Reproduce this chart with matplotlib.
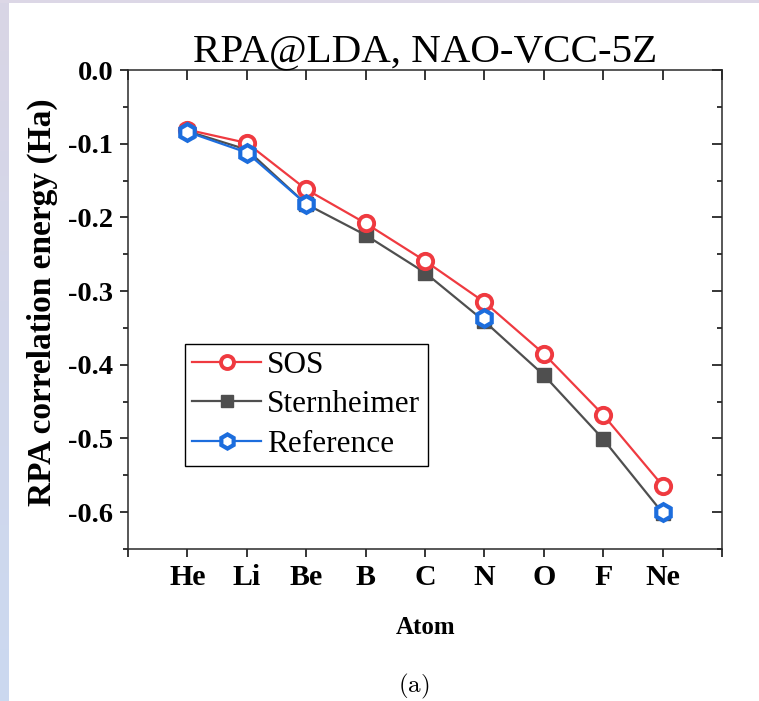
import numpy as np
import matplotlib
matplotlib.use("Agg")
import matplotlib.pyplot as plt
from matplotlib.ticker import MultipleLocator, FixedLocator

plt.rcParams['font.family'] = ['Liberation Serif', 'DejaVu Serif']
plt.rcParams['axes.unicode_minus'] = False
plt.rcParams['mathtext.fontset'] = 'cm'

# -----------------------------
# Data
# -----------------------------
atoms = ["He", "Li", "Be", "B", "C", "N", "O", "F", "Ne"]
x_pos = np.arange(1, len(atoms) + 1)

sos = [-0.081, -0.099, -0.162, -0.208, -0.259, -0.315, -0.385, -0.468, -0.564]
sternheimer = [-0.083, -0.108, -0.182, -0.224, -0.275, -0.341, -0.414, -0.501, -0.601]
# reference only known for some atoms
reference = [-0.084, -0.112, -0.182, np.nan, np.nan, -0.337, np.nan, np.nan, -0.600]

red = "#ef3a40"
gray = "#4f4f4f"
blue = "#1c6ddd"

# -----------------------------
# Figure
# -----------------------------
W, H = 759, 701
fig = plt.figure(figsize=(W / 100, H / 100), dpi=100)

# light frame strips (left gradient + top)
strip = fig.add_axes([0, 0, 9 / W, 1])
grad = np.linspace(0, 1, 256).reshape(-1, 1)
c_top = np.array([0xd9, 0xd5, 0xe5]) / 255
c_bot = np.array([0xcb, 0xd9, 0xf0]) / 255
img = c_top[None, None, :] * (1 - grad[:, :, None]) + c_bot[None, None, :] * grad[:, :, None]
strip.imshow(img, aspect='auto', extent=[0, 1, 0, 1])
strip.axis('off')
top = fig.add_axes([0, 1 - 3 / H, 1, 3 / H])
top.set_facecolor("#dcd7e6")
top.set_xticks([])
top.set_yticks([])
for s in top.spines.values():
    s.set_visible(False)

ax = fig.add_axes([128 / W, 1 - 549 / H, 594 / W, 479 / H])

ax.plot(x_pos, sternheimer, color=gray, lw=1.6, marker='s', ms=10,
        mfc=gray, mec=gray, label="Sternheimer", zorder=3)
ax.plot(x_pos, sos, color=red, lw=1.6, marker='o', ms=11,
        mfc='white', mec=red, mew=2.8, label="SOS", zorder=4)
ax.plot(x_pos, reference, color=blue, lw=1.6, marker='h', ms=12,
        mfc='white', mec=blue, mew=3.0, label="Reference", zorder=5)

ax.set_xlim(0, 10)
ax.set_ylim(-0.65, 0.0)

ax.xaxis.set_major_locator(FixedLocator(np.arange(0, 11)))
ax.set_xticklabels([""] + atoms + [""])
ax.yaxis.set_major_locator(MultipleLocator(0.1))
ax.yaxis.set_minor_locator(MultipleLocator(0.05))
ax.yaxis.set_major_formatter(plt.FuncFormatter(lambda v, p: "%.1f" % v))

ax.tick_params(axis='x', which='major', direction='out', length=5.5, width=1.1,
               labelsize=21.5, pad=5, top=False)
ax.tick_params(axis='y', which='major', direction='out', length=5.5, width=1.1,
               labelsize=20.5, pad=5, right=False)
ax.tick_params(axis='y', which='minor', direction='out', length=3.5, width=1.1, right=False)
for lab in ax.get_xticklabels() + ax.get_yticklabels():
    lab.set_fontweight('bold')

for s in ax.spines.values():
    s.set_linewidth(1.1)
    s.set_color("#2a2a2a")

# inward ticks on top and right
ax_top = ax.secondary_xaxis('top')
ax_top.xaxis.set_major_locator(FixedLocator(np.arange(0, 11)))
ax_top.tick_params(direction='in', length=7, width=1.1, labeltop=False)
ax_top.spines['top'].set_visible(False)
ax_right = ax.secondary_yaxis('right')
ax_right.yaxis.set_major_locator(MultipleLocator(0.1))
ax_right.yaxis.set_minor_locator(MultipleLocator(0.05))
ax_right.tick_params(which='major', direction='in', length=7, width=1.1, labelright=False)
ax_right.tick_params(which='minor', direction='in', length=3.5, width=1.1)
ax_right.spines['right'].set_visible(False)

ax.set_title("RPA@LDA, NAO-VCC-5Z", fontsize=29.5, pad=6)

fig.text(42 / W, 1 - 302 / H, "RPA correlation energy (Ha)", rotation=90,
         ha='center', va='center', fontsize=24, fontweight='bold')
fig.text(426 / W, 1 - 628 / H, "Atom", ha='center', va='center',
         fontsize=18, fontweight='bold')
fig.text(414 / W, 1 - 686 / H, r"$\mathrm{(a)}$", ha='center', va='center',
         fontsize=18)

handles, labels = ax.get_legend_handles_labels()
order = [1, 0, 2]
leg = ax.legend([handles[i] for i in order], [labels[i] for i in order],
                loc='lower left', bbox_to_anchor=(0.096, 0.173), borderaxespad=0,
                fontsize=22.5, frameon=True, fancybox=False, framealpha=1,
                edgecolor='black', handlelength=2.2, handletextpad=0.2,
                labelspacing=0.34, borderpad=0.23, markerscale=0.85)
leg.get_frame().set_linewidth(1.0)

fig.savefig("out.png", dpi=100)
